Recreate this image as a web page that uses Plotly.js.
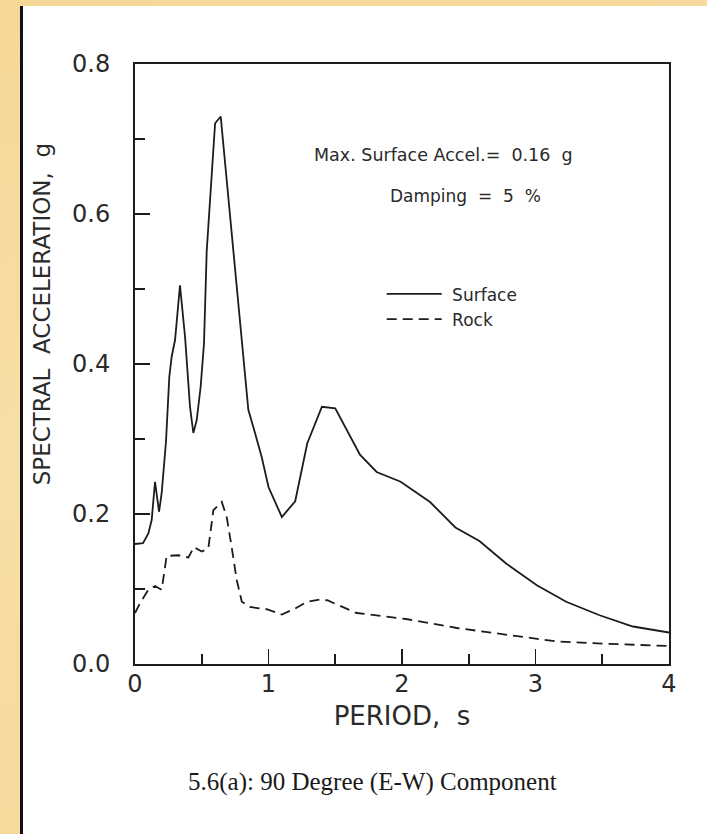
<!DOCTYPE html>
<html>
<head>
<meta charset="utf-8">
<script src="https://cdn.plot.ly/plotly-3.0.1.min.js"></script>
<style>
  html, body { margin: 0; padding: 0; }
  body { width: 707px; height: 834px; position: relative; overflow: hidden;
         background: linear-gradient(165deg, #f6d795 0%, #f8dea8 45%, #f6d796 100%); }
  #sheet { position: absolute; left: 23px; top: 6px; right: 0; bottom: 0; background: #ffffff; }
  #rule { position: absolute; left: 20px; top: 6px; width: 3px; bottom: 0; background: #111111; }
  #chart { position: absolute; left: 0; top: 0; width: 707px; height: 834px; }
</style>
</head>
<body>
<div id="sheet"></div>
<div id="rule"></div>
<div id="chart"></div>
<script>
// Response spectra, 5% damping: period (s) vs spectral acceleration (g)
const surfacePeriod = [0, 0.06, 0.10, 0.125, 0.15, 0.18, 0.20, 0.232, 0.257, 0.275, 0.30, 0.337,
  0.375, 0.412, 0.437, 0.462, 0.492, 0.517, 0.537, 0.60, 0.642, 0.762, 0.80, 0.849, 0.899,
  0.949, 1.0, 1.10, 1.20, 1.29, 1.40, 1.50, 1.685, 1.81, 1.99, 2.21, 2.40, 2.58, 2.78, 3.01, 3.23,
  3.48, 3.73, 4.0];
const surfaceSA = [0.16, 0.161, 0.174, 0.192, 0.243, 0.203, 0.228, 0.296, 0.383, 0.41, 0.432, 0.505,
  0.436, 0.343, 0.308, 0.325, 0.37, 0.428, 0.55, 0.721, 0.73, 0.499, 0.428, 0.339, 0.308,
  0.276, 0.236, 0.196, 0.217, 0.294, 0.343, 0.341, 0.279, 0.256, 0.243, 0.216, 0.182, 0.164, 0.134,
  0.105, 0.083, 0.065, 0.050, 0.042];

const rockPeriod = [0, 0.037, 0.10, 0.15, 0.20, 0.237, 0.325, 0.40, 0.442, 0.50, 0.549, 0.587, 0.65,
  0.687, 0.724, 0.762, 0.80, 0.861, 0.987, 1.10, 1.20, 1.29, 1.39, 1.44, 1.66, 2.03, 2.41, 2.78,
  3.16, 3.53, 4.0];
const rockSA = [0.068, 0.081, 0.099, 0.104, 0.099, 0.144, 0.145, 0.142, 0.156, 0.15, 0.154, 0.205,
  0.216, 0.196, 0.156, 0.112, 0.083, 0.076, 0.073, 0.066, 0.074, 0.083, 0.086, 0.085, 0.068, 0.06,
  0.048, 0.039, 0.030, 0.027, 0.024];

const seriesNames = ['Surface', 'Rock'];
const xTitle = 'PERIOD,\u00A0\u00A0s';
const yTitle = 'SPECTRAL\u00A0 ACCELERATION,\u00A0 g';
const noteAccel = 'Max. Surface Accel.=\u00A0 0.16\u00A0 g';
const noteDamping = 'Damping\u00A0 =\u00A0 5\u00A0 %';
const caption = '5.6(a): 90 Degree (E-W) Component';

const ink = '#1c1c1c';
const textInk = '#2a2a2a';
const sans = 'DejaVu Sans, sans-serif';

const traces = [
  { x: surfacePeriod, y: surfaceSA, name: '\u00A0' + seriesNames[0], type: 'scatter', mode: 'lines',
    line: { color: ink, width: 1.8 } },
  { x: rockPeriod, y: rockSA, name: '\u00A0' + seriesNames[1], type: 'scatter', mode: 'lines',
    line: { color: ink, width: 1.8, dash: '10px,6px' } }
];

const axisCommon = {
  showline: true, linewidth: 2, linecolor: ink, mirror: true,
  showgrid: false, zeroline: false,
  ticks: 'inside', ticklen: 15, tickwidth: 1.6, tickcolor: ink,
  tickfont: { family: sans, size: 24, color: textInk }
};

const layout = {
  width: 707, height: 834,
  margin: { l: 135, r: 38, t: 64, b: 170, pad: 0 },
  paper_bgcolor: 'rgba(0,0,0,0)', plot_bgcolor: 'rgba(0,0,0,0)',
  showlegend: true,
  legend: { x: 0.462, y: 0.646, xanchor: 'left', yanchor: 'top',
            bgcolor: 'rgba(0,0,0,0)', itemwidth: 55, tracegroupgap: 0,
            font: { family: sans, size: 17, color: textInk } },
  xaxis: Object.assign({}, axisCommon, {
    range: [0, 4], tick0: 0, dtick: 1, ticklabelstandoff: -3,
    minor: { dtick: 0.5, ticks: 'inside', ticklen: 10, tickwidth: 1.6, tickcolor: ink },
    title: { text: xTitle, standoff: 10, font: { family: sans, size: 26, color: textInk } }
  }),
  yaxis: Object.assign({}, axisCommon, {
    range: [0, 0.8], tick0: 0, dtick: 0.2, tickformat: '.1f',
    ticklabelstandoff: 18,
    minor: { dtick: 0.1, ticks: 'inside', ticklen: 10, tickwidth: 1.6, tickcolor: ink }
  }),
  annotations: [
    { text: yTitle, xref: 'paper', yref: 'paper', x: -0.174, y: 0.583, textangle: -90,
      xanchor: 'center', yanchor: 'middle', showarrow: false,
      font: { family: sans, size: 23, color: textInk } },
    { text: noteAccel, xref: 'paper', yref: 'paper', x: 0.331, y: 0.848,
      xanchor: 'left', yanchor: 'middle', showarrow: false,
      font: { family: sans, size: 17.5, color: textInk } },
    { text: noteDamping, xref: 'paper', yref: 'paper', x: 0.474, y: 0.78,
      xanchor: 'left', yanchor: 'middle', showarrow: false,
      font: { family: sans, size: 17, color: textInk } },
    { text: caption, xref: 'paper', yref: 'paper', x: 0.444, y: -0.197,
      xanchor: 'center', yanchor: 'middle', showarrow: false,
      font: { family: 'Liberation Serif, serif', size: 25, color: '#1a1a1a' } }
  ]
};

Plotly.newPlot('chart', traces, layout, { displayModeBar: false, staticPlot: true });
</script>
</body>
</html>
